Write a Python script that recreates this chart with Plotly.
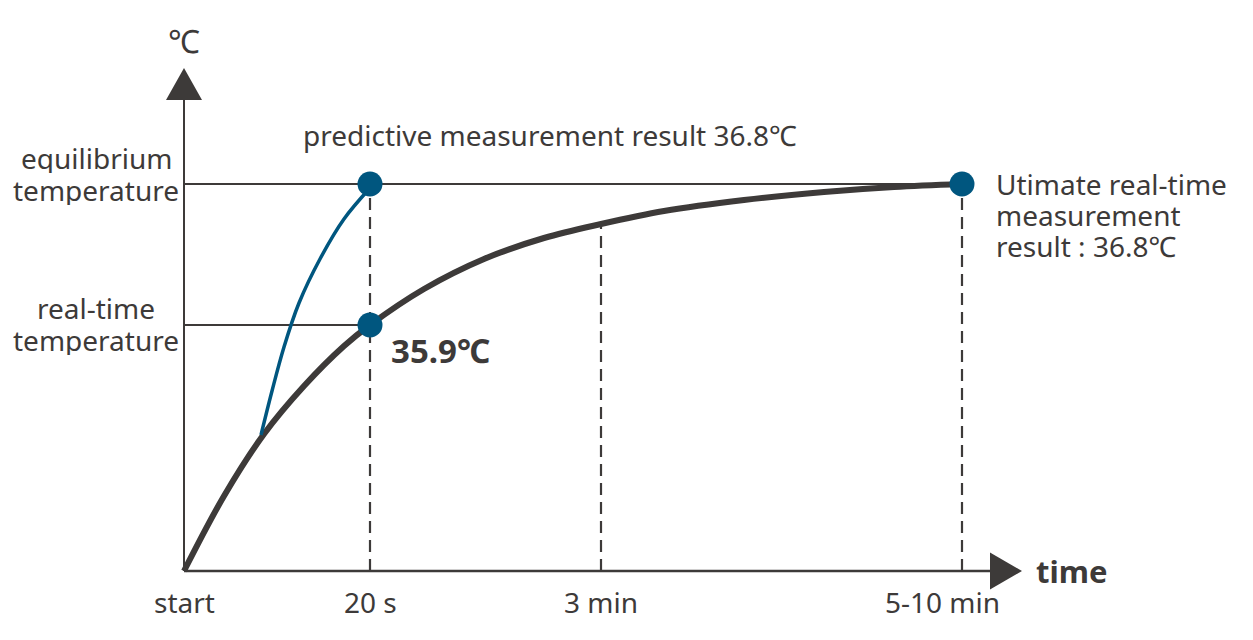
import plotly.graph_objects as go

# ---- data (schematic units) ----
time_ticks = ["start", "20 s", "3 min", "5-10 min"]
tick_x = [0, 186, 417, 778]

level_labels = [["equilibrium", "temperature"], ["real-time", "temperature"]]
level_y = [387, 246]

real_curve_x = [0, 40, 80, 120, 160, 186, 240, 300, 360, 417, 480, 560, 640, 710, 778]
real_curve_y = [0, 75, 137, 185, 225, 246, 282, 312, 333, 347, 360, 371, 379, 384, 387]

pred_curve_x = [77, 88, 100, 115, 136, 160, 186]
pred_curve_y = [136, 180, 224, 268, 312, 352, 383]

dot_x = [186, 186, 778]
dot_y = [387, 246, 387]

pred_text = "predictive measurement result 36.8℃"
real_value_text = "35.9℃"
final_text = ["Utimate real-time", "measurement", "result : 36.8℃"]

DARK = "#3d3a39"
BLUE = "#00567f"
FONT = "Noto Sans"

fig = go.Figure()

# level lines
fig.add_trace(go.Scatter(x=[0, tick_x[3]], y=[level_y[0]] * 2, mode="lines",
                         line=dict(color=DARK, width=2), hoverinfo="skip"))
fig.add_trace(go.Scatter(x=[0, tick_x[1]], y=[level_y[1]] * 2, mode="lines",
                         line=dict(color=DARK, width=2), hoverinfo="skip"))

# dashed verticals
for xv, yv in [(tick_x[1], level_y[0]), (tick_x[2], real_curve_y[9]), (tick_x[3], level_y[0])]:
    fig.add_trace(go.Scatter(x=[xv, xv], y=[0, yv], mode="lines",
                             line=dict(color=DARK, width=2.2, dash="12px,7px"),
                             hoverinfo="skip"))

# real-time curve
fig.add_trace(go.Scatter(x=real_curve_x, y=real_curve_y, mode="lines",
                         line=dict(color=DARK, width=6, shape="spline", smoothing=1),
                         hoverinfo="skip"))
# predictive curve
fig.add_trace(go.Scatter(x=pred_curve_x, y=pred_curve_y, mode="lines",
                         line=dict(color=BLUE, width=3.5, shape="spline", smoothing=1),
                         hoverinfo="skip"))
# dots
fig.add_trace(go.Scatter(x=dot_x, y=dot_y, mode="markers",
                         marker=dict(color=BLUE, size=25), hoverinfo="skip"))

# axes with arrows
shapes = [
    dict(type="line", x0=0, y0=0, x1=0, y1=472, line=dict(color=DARK, width=2)),
    dict(type="path", path="M -18,471 L 18,471 L 0,503 Z", fillcolor=DARK,
         line=dict(width=0)),
    dict(type="line", x0=0, y0=0, x1=808, y1=0, line=dict(color=DARK, width=2.5)),
    dict(type="path", path="M 806,-18.5 L 806,18.5 L 838,0 Z", fillcolor=DARK,
         line=dict(width=0)),
]

ann = []
txt = dict(family=FONT, size=28, color=DARK)
for lbl, xv, xs in zip(time_ticks, tick_x, [0, 0, 0, -20]):
    ann.append(dict(x=xv, y=-31, text=lbl, showarrow=False, xshift=xs,
                    font=txt, xanchor="center", yanchor="middle"))
for lines, yv, ys in zip(level_labels, level_y, [10, 1]):
    for i, line in enumerate(lines):
        ann.append(dict(x=-88, y=yv, text=line, showarrow=False,
                        yshift=ys + 16 - 32 * i, height=30,
                        font=txt, xanchor="center", yanchor="middle"))
ann.append(dict(x=0, y=531, text="℃", showarrow=False,
                font=dict(family=FONT, size=32, color=DARK)))
ann.append(dict(x=366, y=436, text=pred_text, showarrow=False, font=txt))
ann.append(dict(x=205, y=221, text="<b>" + real_value_text + "</b>", showarrow=False,
                xanchor="left", font=dict(family=FONT, size=33, color=DARK)))
for i, line in enumerate(final_text):
    ann.append(dict(x=810, y=level_y[0], yshift=-31 * i, text=line, showarrow=False,
                    height=30, xanchor="left", yanchor="middle", font=txt))
ann.append(dict(x=850, y=0, text="<b>time</b>", showarrow=False, xanchor="left",
                font=dict(family=FONT, size=31, color=DARK)))

fig.update_layout(
    width=1253, height=640,
    margin=dict(l=0, r=0, t=0, b=0),
    paper_bgcolor="white", plot_bgcolor="white",
    showlegend=False,
    xaxis=dict(range=[-184, 1069], visible=False, fixedrange=True),
    yaxis=dict(range=[-69, 571], visible=False, fixedrange=True),
    shapes=shapes, annotations=ann,
)

fig.write_html("out.html")
